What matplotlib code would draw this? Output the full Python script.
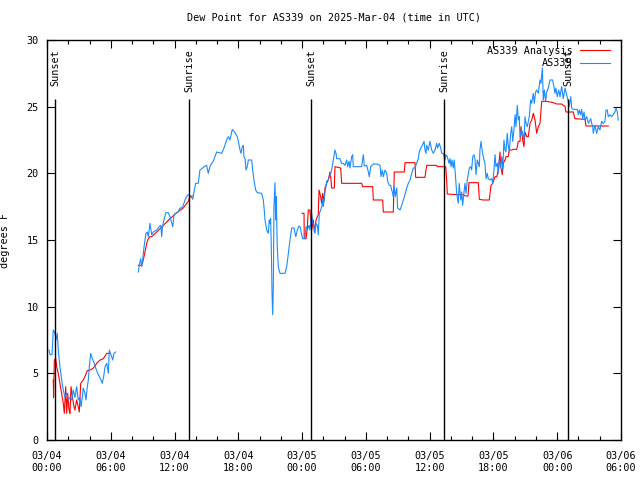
import numpy as np
import pandas as pd
import matplotlib
matplotlib.use("Agg")
import matplotlib.pyplot as plt
import matplotlib.dates as mdates

# hours since 2025-03-04 00:00 UTC, dew point in degrees F
# (nan = gap in the record)
obs_hours = [
    0.19, 0.28, 0.47, 0.59, 0.75, 0.85, 0.97, 1.06, 1.22, 1.38, 1.53, 1.69, 1.85, 2.0,
    2.16, 2.32, 2.47, 2.63, 2.79, 2.94, 3.1, 3.2, 3.32, 3.41, 3.57, 3.67, 3.79, 3.89,
    3.98, 4.11, 4.26, 4.45, 4.58, 4.77, 4.92, 5.08, 5.2, 5.33, 5.46, 5.62, 5.77, 5.86,
    6.02, 6.18, 6.3, 6.46,
    7.5,
    8.59, 8.68, 8.81, 8.91, 9.0, 9.13, 9.22, 9.31, 9.44, 9.53, 9.69, 9.85, 10.0, 10.32,
    10.54, 10.7, 10.79, 10.88, 11.03, 11.19, 11.41, 11.57, 11.83, 11.95, 12.11, 12.35,
    12.51, 12.67, 12.82, 12.98, 13.14, 13.29, 13.52, 13.71, 13.86, 13.99, 14.23, 14.39,
    14.65, 14.86, 15.02, 15.17, 15.33, 15.49, 15.64, 15.8, 15.96, 16.21, 16.43, 16.65,
    16.9, 17.06, 17.22, 17.43, 17.69, 17.9, 18.0, 18.16, 18.25, 18.37, 18.47, 18.53,
    18.63, 18.72, 18.84, 18.94, 19.26, 19.35, 19.47, 19.63, 19.78, 20.2, 20.35, 20.44,
    20.51, 20.67, 20.82, 20.91, 20.98, 21.04, 21.1, 21.17, 21.23, 21.29, 21.35, 21.45,
    21.51, 21.57, 21.66, 21.76, 21.92, 22.39, 22.55, 22.7, 22.86, 23.02, 23.24, 23.4,
    23.55, 23.71, 23.8, 24.05, 24.27, 24.37, 24.49, 24.65, 24.74, 24.9, 25.0, 25.12,
    25.21, 25.31, 25.43, 25.52, 25.62, 25.75, 25.84, 25.94, 25.99, 26.06, 26.15, 26.25,
    26.31, 26.46, 26.56, 26.69, 26.78, 26.88, 27.0, 27.09, 27.19, 27.25, 27.56, 27.72,
    27.87, 28.03, 28.19, 28.29, 28.41, 28.5, 28.66, 28.76, 28.81, 28.97, 29.29, 29.6,
    29.76, 29.85, 30.08, 30.23, 30.32, 30.45, 30.7, 31.02, 31.33, 31.42, 31.54, 31.64,
    31.8, 31.96, 32.05, 32.2, 32.33, 32.43, 32.52, 32.58, 32.67, 32.76, 32.9, 32.99,
    33.21, 33.37, 33.52, 33.68, 33.84, 33.99, 34.15, 34.31, 34.46, 34.62, 34.78, 34.93,
    35.02, 35.16, 35.31, 35.47, 35.56, 35.65, 35.72, 35.87, 36.03, 36.19, 36.34, 36.5,
    36.66, 36.75, 36.9, 37.04, 37.13, 37.28, 37.44, 37.53, 37.66, 37.82, 37.91, 38.01,
    38.1, 38.22, 38.31, 38.41, 38.54, 38.69, 38.78, 38.92, 39.01, 39.1, 39.23, 39.32,
    39.42, 39.54, 39.73, 39.86, 39.95, 40.05, 40.17, 40.27, 40.36, 40.48, 40.58, 40.67,
    40.73, 40.83, 40.89, 40.98, 41.11, 41.2, 41.3, 41.42, 41.51, 41.67, 41.83, 41.93,
    42.05, 42.15, 42.24, 42.36, 42.46, 42.55, 42.68, 42.78, 42.87, 42.99, 43.09, 43.18,
    43.3, 43.39, 43.49, 43.62, 43.72, 43.81, 43.93, 44.03, 44.12, 44.24, 44.34, 44.43,
    44.5, 44.65, 44.75, 44.87, 44.97, 45.06, 45.18, 45.37, 45.5, 45.6, 45.75, 45.84,
    45.97, 46.07, 46.22, 46.38, 46.47, 46.6, 46.69, 46.79, 46.91, 47.01, 47.16, 47.32,
    47.57, 47.69, 47.79, 47.88, 48.0, 48.14, 48.26, 48.42, 48.57, 48.73, 48.89, 49.04,
    49.13, 49.27, 49.36, 49.51, 49.89, 49.98, 50.08, 50.21, 50.3, 50.4, 50.52, 50.61,
    50.77, 50.93, 51.02, 51.15, 51.24, 51.34, 51.39, 51.55, 51.71, 51.86, 52.02, 52.18,
    52.33, 52.49, 52.59, 52.71, 52.8, 52.96, 53.12, 53.27, 53.43, 53.53, 53.65, 53.74,
]
obs_dewp = [
    6.75, 6.4, 6.4, 8.25, 8.0, 7.5, 8.0, 6.75, 5.5, 4.5, 3.75, 3.2, 3.5, 3.0,
    3.2, 3.0, 3.75, 3.2, 4.0, 3.0, 3.2, 2.5, 3.2, 3.9, 3.5, 3.0, 4.0, 4.5,
    5.5, 6.5, 6.1, 5.75, 5.4, 5.0, 4.75, 4.5, 4.25, 4.75, 5.5, 5.75, 5.0, 6.75,
    6.4, 6.0, 6.5, 6.6,
    np.nan,
    12.6, 13.1, 13.6, 13.0, 13.5, 14.5, 15.0, 15.5, 15.6, 15.25, 16.25, 15.4, 15.6, 15.75,
    16.0, 16.1, 15.25, 16.1, 16.6, 17.05, 17.05, 16.75, 16.0, 16.9, 17.0, 17.1,
    17.4, 17.4, 17.6, 18.0, 18.25, 18.4, 18.3, 18.05, 18.75, 19.25, 19.25, 20.25,
    20.4, 20.55, 20.6, 20.0, 20.5, 20.75, 20.9, 21.25, 21.6, 21.55, 21.5, 21.9,
    22.5, 22.75, 22.5, 23.3, 23.05, 22.75, 22.4, 21.75, 21.5, 22.0, 22.1, 21.25,
    21.1, 20.25, 20.5, 21.0, 21.0, 20.25, 19.5, 18.75, 18.55, 18.5, 18.0, 17.25,
    16.5, 15.75, 15.5, 16.5, 16.25, 16.6, 14.5, 11.0, 9.4, 11.25, 17.5, 19.3,
    16.5, 18.25, 14.5, 13.0, 12.5, 12.5, 13.0, 14.0, 15.0, 15.9, 15.9, 15.25,
    15.75, 16.05, 16.0, 15.1, 15.1, 16.0, 15.75, 16.1, 15.75, 17.0, 16.25, 16.1,
    15.5, 16.25, 16.1, 15.4, 17.0, 17.25, 17.5, 18.0, 17.5, 17.9, 18.6, 19.0,
    19.4, 19.5, 19.75, 20.0, 20.25, 20.75, 21.4, 21.75, 21.5, 21.1, 21.1, 20.75,
    20.75, 20.6, 21.0, 20.5, 20.9, 20.4, 21.25, 21.4, 20.5, 20.5, 20.5, 20.5,
    21.4, 20.55, 20.6, 20.1, 19.75, 20.5, 20.7, 20.7, 20.6, 19.75, 20.25, 19.75,
    20.25, 20.0, 19.4, 19.1, 19.1, 18.75, 18.5, 18.25, 19.0, 18.25, 18.9, 17.4,
    17.25, 17.6, 18.0, 18.4, 18.9, 19.25, 19.5, 20.0, 20.4, 20.4, 20.75, 21.1,
    21.6, 21.9, 22.1, 22.4, 21.75, 21.5, 22.1, 21.75, 22.4, 21.75, 21.5, 21.75,
    22.25, 21.9, 22.25, 21.9, 21.5, 21.5, 21.0, 21.4, 21.25, 20.75, 21.1, 20.5,
    21.0, 20.4, 21.0, 20.0, 18.5, 17.75, 19.25, 18.0, 18.6, 17.6, 18.6, 19.25,
    18.5, 19.5, 20.4, 20.5, 20.25, 21.25, 21.4, 21.0, 19.9, 21.0, 20.75, 20.5,
    21.75, 22.4, 22.0, 21.5, 21.0, 20.75, 19.6, 20.0, 19.6, 19.5, 19.6, 19.25,
    20.25, 21.4, 20.5, 20.75, 20.0, 21.0, 20.5, 21.25, 20.25, 22.5, 21.75, 21.6,
    23.0, 22.1, 21.6, 23.0, 23.5, 22.4, 23.25, 24.4, 23.5, 25.1, 24.0, 24.25,
    22.75, 23.25, 23.0, 22.5, 24.25, 23.75, 23.5, 24.25, 25.5, 25.25, 26.0, 25.25,
    26.1, 26.25, 26.0, 27.0, 26.75, 27.9, 25.5, 26.25, 25.4, 26.1, 26.4, 27.0,
    27.0, 26.5, 26.0, 26.4, 25.75, 26.25, 25.75, 26.5, 25.6, 26.4, 25.9, 25.4,
    25.0, 25.75, 24.9, 24.8, 24.8, 24.4, 24.75, 24.4, 24.8, 24.1, 24.6, 24.0,
    24.25, 23.75, 23.9, 24.1, 23.75, 23.5, 23.0, 23.6, 23.0, 23.5, 23.25, 23.9,
    23.75, 23.9, 24.75, 24.75, 24.25, 24.4, 24.25, 24.4, 24.6, 24.9, 24.6, 24.0,
]

ana_hours = [
    0.59, 0.62, 0.69, 0.82, 0.91, 1.06, 1.22, 1.38, 1.53, 1.63, 1.76, 1.85, 1.95, 2.07,
    2.16, 2.26, 2.38, 2.54, 2.63, 2.79, 2.94, 3.04, 3.17, 3.41, 3.57, 3.79, 4.05, 4.36,
    4.68, 4.99, 5.3, 5.62, 5.93,
    7.0,
    8.59, 8.91, 9.06, 9.22, 9.38, 9.53, 9.69, 9.85, 10.32, 10.94, 11.57, 12.2, 12.82,
    13.29, 13.45, 13.68,
    18.0,
    23.99, 24.18, 24.2, 24.37, 24.49, 24.58, 24.74, 24.9, 25.05, 25.15, 25.31, 25.52,
    25.59, 25.75, 25.84, 25.94, 26.06, 26.15, 26.31, 26.46, 26.56, 26.62, 26.72, 26.78,
    27.03, 27.09, 27.63, 27.72, 29.6, 29.7, 30.64, 30.7, 31.58, 31.64, 32.58, 32.67,
    33.61, 33.68, 34.62, 34.68, 35.56, 35.65, 35.72, 36.66, 36.72, 37.51, 37.6, 37.66,
    38.54, 39.13, 39.39, 39.61, 39.7, 40.58, 40.67, 41.04, 41.61, 41.68, 41.77, 41.93,
    42.15, 42.31, 42.46, 42.62, 42.68, 42.83, 42.93, 43.09, 43.18, 43.39, 43.49, 43.72,
    43.87, 44.19, 44.34, 44.5, 44.59, 44.75, 44.87, 44.97, 45.13, 45.28, 45.44, 45.6,
    45.75, 45.91, 46.07, 46.22, 46.38, 46.54, 47.01, 47.63, 47.95, 48.42, 48.63, 48.73,
    48.82, 49.51, 49.67, 50.61, 50.71, 52.8,
]
ana_dewp = [
    4.5, 3.2, 6.0, 6.1, 5.5, 5.0, 4.25, 3.5, 2.75, 2.0, 4.0, 2.0, 3.5, 2.25,
    2.0, 4.0, 3.25, 2.5, 2.25, 3.0, 2.5, 2.1, 4.25, 4.5, 4.75, 5.2, 5.25, 5.4,
    5.75, 6.0, 6.1, 6.5, 6.5,
    np.nan,
    13.1, 13.1, 13.5, 14.1, 14.75, 15.1, 15.25, 15.25, 15.6, 16.1, 16.6, 17.05, 17.4,
    17.9, 18.25, 18.3,
    np.nan,
    17.0, 17.0, 15.1, 15.1, 15.9, 17.25, 17.25, 15.75, 16.5, 15.6, 16.5, 16.9,
    18.75, 18.25, 17.75, 18.5, 17.9, 18.9, 19.25, 19.5, 19.9, 20.1, 19.5, 18.9,
    18.9, 20.5, 20.4, 19.25, 19.25, 19.0, 19.0, 18.0, 18.0, 17.1, 17.1, 20.1,
    20.1, 20.8, 20.8, 19.7, 19.7, 20.2, 20.6, 20.6, 20.5, 20.5, 19.5, 18.45,
    18.4, 18.4, 18.3, 18.3, 19.3, 19.3, 18.05, 18.0, 18.0, 18.5, 19.1, 19.25,
    19.75, 19.75, 20.25, 21.6, 20.5, 19.9, 20.75, 21.0, 21.25, 21.25, 21.75, 21.75,
    21.8, 21.8, 22.4, 22.4, 23.5, 22.5, 22.0, 23.1, 22.75, 22.75, 23.75, 24.0,
    24.5, 24.0, 23.0, 23.5, 23.75, 25.4, 25.4, 25.3, 25.2, 25.2, 25.05, 25.05,
    24.6, 24.6, 24.1, 24.05, 23.55, 23.55,
]

sun_hours = [0.75, 13.36, 24.84, 37.35, 49.01]
sun_labels = ["Sunset", "Sunrise", "Sunset", "Sunrise", "Sunset"]

start = pd.Timestamp("2025-03-04 00:00")
obs_t = start + pd.to_timedelta(obs_hours, unit="h")
ana_t = start + pd.to_timedelta(ana_hours, unit="h")
sun_t = start + pd.to_timedelta(sun_hours, unit="h")

plt.rcParams["font.family"] = "DejaVu Sans Mono"
fs = 7.3

fig = plt.figure(figsize=(6.4, 4.8), dpi=100)
ax = fig.add_axes([47 / 640, 40 / 480, 574 / 640, 400 / 480])

ax.plot(ana_t, ana_dewp, color="#ff0000", lw=0.8, label="AS339 Analysis")
ax.plot(obs_t, obs_dewp, color="#1a8cff", lw=0.8, label="AS339")

ax.vlines(sun_t, 0, 25.6, color="black", lw=1)
for t, lab in zip(sun_t, sun_labels):
    ax.text(t, 29.3, lab, rotation=90, ha="center", va="top", fontsize=fs)

ax.set_xlim(start, start + pd.Timedelta(hours=54))
ax.set_ylim(0, 30)
ax.xaxis.set_major_locator(mdates.HourLocator(byhour=range(0, 24, 6)))
ax.xaxis.set_minor_locator(mdates.HourLocator(byhour=range(0, 24, 2)))
ax.xaxis.set_major_formatter(mdates.DateFormatter("%m/%d\n%H:%M"))
ax.set_yticks(range(0, 31, 5))

ax.tick_params(which="both", direction="in", top=True, right=True, labelsize=fs)
ax.tick_params(axis="x", pad=8)
ax.tick_params(axis="y", pad=6)
ax.tick_params(which="major", length=6, width=0.8)
ax.tick_params(which="minor", length=3, width=0.8)
for s in ax.spines.values():
    s.set_linewidth(1)

ax.set_ylabel("degrees F", fontsize=fs)
ax.yaxis.set_label_coords(-0.064, 0.5)
ax.set_title("Dew Point for AS339 on 2025-Mar-04 (time in UTC)", fontsize=fs, pad=14)

ax.legend(loc="upper right", bbox_to_anchor=(0.984, 0.99), frameon=False,
          markerfirst=False, fontsize=fs, handlelength=2.9, handletextpad=0.8,
          borderaxespad=0, labelspacing=0.2, borderpad=0.2)

fig.savefig("out.png", dpi=100)
